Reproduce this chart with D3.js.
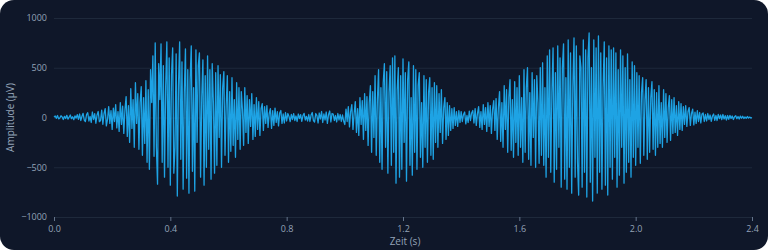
<!DOCTYPE html>
<html>
<head>
<meta charset="utf-8">
<script src="https://cdn.jsdelivr.net/npm/d3@7"></script>
<style>
  html, body { margin: 0; padding: 0; background: #ffffff; }
  svg { display: block; }
</style>
</head>
<body>
<svg id="chart" width="768" height="250"></svg>
<script>
// ---- data ----
const duration = 2.4;            // seconds
const yTicks = [-1000, -500, 0, 500, 1000];
const xTicks = [0.0, 0.4, 0.8, 1.2, 1.6, 2.0, 2.4];
const xLabel = "Zeit (s)";
const yLabel = "Amplitude (µV)";
// amplitude samples in µV, evenly spaced over the duration
const amplitude = [
  4, 15, -8, 20, -14, -5, 18, 6, -20, 12, -10, 22, -16, 3, 25, -12, 8, -22, 16, -6,
  28, -18, 35, -30, 10, 42, -25, -40, 30, 48, -35, 12, -50, 55, -20, 38, -58, 25, 60, -42,
  -30, 75, -68, 40, 90, -85, -20, 110, -60, 70, -120, 95, -40, 130, -105, 60, -140, 150, -70, 115,
  -160, 80, 210, -190, 120, -250, 290, -110, 180, -300, 350, -60, 240, -320, 150, 310, -380, 200, -260, 370,
  -450, 280, -520, 480, 150, 620, -390, 750, -300, -670, 540, 180, 740, -450, 520, -600, 320, 760, -500, 600,
  -680, 430, 700, -560, -300, 640, -790, 320, 760, -420, 560, -720, 250, 690, -610, 480, -760, 380, 720, -540,
  300, -740, 680, -250, 520, 650, -600, 200, 580, -680, 420, -500, 620, -320, 480, -620, 540, 150, -560, 450,
  -480, 520, -200, 430, -500, 300, 460, -380, 120, 420, -450, 260, -340, 400, -280, 180, -400, 350, -220, 300,
  -320, 260, 80, -280, 300, -150, 220, -260, 180, -90, 240, -220, 130, -190, 200, -120, 160, -180, 90, 140,
  -130, 110, -60, 120, -100, 40, 90, -110, 70, -80, 95, -50, 60, -85, 45, 70, -60, 35, -55, 50,
  -35, 40, 10, -42, 30, -20, 38, -30, 15, -40, 35, -10, 28, -38, 20, 42, -25, 12, -35, 30,
  -40, 25, 50, -30, -45, 40, 20, -55, 45, -15, 60, -50, 35, -25, 55, -60, 30, 65, -45, 40,
  35, -30, 20, -45, 40, -25, 30, -40, 25, -35,
  -70, 85, -40, 110, -95, 60, 130, -120, 40, 160, -150, 90, -180, 200, -70, 170, -220, 240, -130, 210,
  -280, 150, 320, -350, 260, -200, 420, -380, 180, 480, -450, 300, -520, 350, 540, -300, 460, -560, 250, 520,
  -480, 600, -350, 620, -660, 280, 500, -600, 420, -520, 590, -250, 450, -640, 380, 560, -480, 200, -580, 520,
  -350, 480, -520, 320, 450, -400, 150, -500, 420, -300, 380, -450, 250, 400, -380, 300, -420, 350, -250, 320,
  -300, 240, -150, 280, -260, 100, 200, -220, 150, -180, 120, -130, 90, -110, 100, -80, 60, -90, 70, -50,
  60, -40, 30, 55, -65, 20, -50, 65, -30, 45,
  70, -55, 90, -80, 40, 110, -100, 60, -120, 130, -70, 100, -140, 150, -90, 120, -160, 80, 170, -130,
  190, -220, 100, 260, -240, 150, -300, 320, -120, 280, -350, 200, 380, -330, 180, -400, 360, -250, 300, -380,
  420, -300, 200, -450, 480, -350, 300, 500, -420, 250, -480, 450, -200, 380, -500, 420, 150, -460, 500, -380,
  550, -480, 300, -600, 620, -400, 680, -550, 250, 700, -650, 450, -520, 720, -300, 600, -700, 500, 740, -620,
  400, -720, 780, -500, 650, -760, 300, 800, -600, 720, -450, -780, 620, 500, -700, 780, -550, 680, -800, 600,
  850, -650, 500, -840, 780, -400, 700, -760, 820, -550, 650, -720, 300, 760, -680, 600, -780, 720, -500, 680,
  -620, 700, -400, 650, -700, 480, -580, 680, -300, 620, -660, 500, -550, 640, -450, 380, -600, 560, -400, 520,
  -480, 450, -300, 420, -460, 250, 400, -380, 180, 380, -420, 300, -350, 200, 360, -320, 280, -380, 250, -300,
  320, -260, 150, -300, 280, -200, 240, -250, 100, 220, -230, 180, -160, 200, -150, 120, -180, 160, -120, 140,
  -130, 110, -70, 120, -90, 60, 100, -80, 40, 85, -75, 55, -60, 70, -40, 50, -55, 35, 45, -40,
  30, -35, 40, -20, 25, -38, 15, 35, -28, 20, -30, 32, -12, 25, -22, 30, -15, 18, -25, 20,
  -18, 22, -10, 15, -20, 8, 18, -12, 10, -15, 14, -8, 12, -10, 6, -8, 10, -5, 4, -6,
  0
];

// ---- layout ----
const W = 768, H = 250;
const margin = { left: 54, right: 16, top: 18, bottom: 33 };
const svg = d3.select("#chart");

svg.append("rect")
  .attr("x", 0).attr("y", 0).attr("width", W).attr("height", H)
  .attr("rx", 14).attr("ry", 14)
  .attr("fill", "#0f1729");

const x = d3.scaleLinear().domain([0, duration]).range([margin.left, W - margin.right]);
const y = d3.scaleLinear().domain([-1000, 1000]).range([H - margin.bottom, margin.top]);

const dt = duration / (amplitude.length - 1);
const points = amplitude.map((v, i) => ({ t: i * dt, v }));

const font = "'Open Sans', 'Noto Sans', sans-serif";

// horizontal grid + y labels
const yAxis = d3.axisLeft(y).tickValues(yTicks).tickSize(-(W - margin.left - margin.right)).tickPadding(7)
  .tickFormat(d3.format("d"));
const gy = svg.append("g").attr("transform", `translate(${margin.left},0)`).call(yAxis);
gy.select(".domain").remove();
gy.selectAll(".tick line").attr("stroke", "#1e293b").attr("stroke-width", 1);
gy.selectAll(".tick text").attr("fill", "#94a3b8").attr("font-size", 9).attr("font-family", font);

// x axis ticks
const xAxis = d3.axisBottom(x).tickValues(xTicks).tickSize(4).tickPadding(5).tickFormat(d3.format(".1f"));
const gx = svg.append("g").attr("transform", `translate(0,${H - margin.bottom})`).call(xAxis);
gx.select(".domain").remove();
gx.selectAll(".tick line").attr("stroke", "#64748b");
gx.selectAll(".tick text").attr("fill", "#94a3b8").attr("font-size", 9).attr("font-family", font);

// signal
const line = d3.line().x(d => x(d.t)).y(d => y(d.v));
svg.append("path")
  .datum(points)
  .attr("d", line)
  .attr("fill", "none")
  .attr("stroke", "#1ea3e4")
  .attr("stroke-width", 1.3)
  .attr("stroke-linejoin", "round");

// axis titles
svg.append("text")
  .attr("x", (margin.left + W - margin.right) / 2 + 2)
  .attr("y", 245)
  .attr("text-anchor", "middle")
  .attr("fill", "#94a3b8")
  .attr("font-size", 10)
  .attr("font-family", font)
  .text(xLabel);

svg.append("text")
  .attr("transform", `translate(14,${y(0)}) rotate(-90)`)
  .attr("text-anchor", "middle")
  .attr("fill", "#94a3b8")
  .attr("font-size", 10)
  .attr("font-family", font)
  .text(yLabel);
</script>
</body>
</html>
